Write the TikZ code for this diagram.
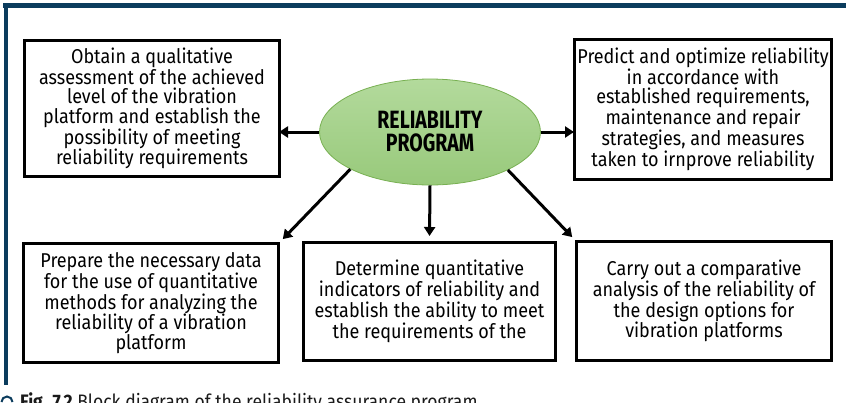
\documentclass[tikz,border=0pt]{standalone}
\usepackage{fontspec}
\setmainfont[FakeStretch=0.9]{Fira Sans}
\newfontfamily\ellfont[FakeStretch=0.78]{Fira Sans}
\usetikzlibrary{shapes.geometric,arrows.meta}
\definecolor{frameblue}{HTML}{0B3C5D}
\definecolor{elltop}{HTML}{B3DA9C}
\definecolor{ellbot}{HTML}{98C97B}
\definecolor{elldraw}{HTML}{78B052}
\definecolor{captext}{HTML}{1A1A1A}
\begin{document}
\begin{tikzpicture}[x=1pt,y=-1pt,
  box/.style={draw=black, line width=3pt, align=center, inner sep=0pt,
    font=\fontsize{20}{19.5}\selectfont},
  conn/.style={line width=3pt, -{Triangle[length=9pt,width=11pt]}},
  framebar/.style={fill=frameblue, draw=none},
]
\useasboundingbox (0,0) rectangle (846,402);
\clip (0,0) rectangle (846,402);
% frame
\fill[framebar] (3,3) rectangle (846,7.5);
\fill[framebar] (3.5,3) rectangle (8,385);
% central ellipse
\node[ellipse, draw=elldraw, line width=0.8pt, top color=elltop, bottom color=ellbot,
  minimum width=221pt, minimum height=106pt, inner sep=0pt, align=center,
  font=\ellfont\bfseries\fontsize{25}{23}\selectfont] (ell) at (430,132) {RELIABILITY\\PROGRAM};
% boxes
\node[box, minimum width=255pt, minimum height=136pt] (b1) at (152,108.5)
  {Obtain a qualitative\\assessment of the achieved\\level of the vibration\\platform and establish the\\possibility of meeting\\reliability requirements};
\node[box, minimum width=257pt, minimum height=140pt] (b2) at (703,109)
  {Predict and optimize reliability\\in accordance with\\established requirements,\\maintenance and repair\\strategies, and measures\\taken to irnprove reliability};
\node[box, minimum width=255pt, minimum height=119pt] (b3) at (151,303)
  {Prepare the necessary data\\for the use of quantitative\\methods for analyzing the\\reliability of a vibration\\platform};
\node[box, minimum width=252pt, minimum height=118pt] (b4) at (429.5,301.5)
  {Determine quantitative\\indicators of reliability and\\establish the ability to meet\\the requirements of the};
\node[box, minimum width=255pt, minimum height=119pt] (b5) at (704,301)
  {Carry out a comparative\\analysis of the reliability of\\the design options for\\vibration platforms};
% connectors
\draw[conn, shorten >=-2pt] (ell.west) -- (ell.west -| b1.east);
\draw[conn, shorten >=-1pt] (ell.east) -- (ell.east -| b2.west);
\draw[conn, shorten >=4pt] (ell.205) -- (b3.north east);
\draw[conn, shorten >=5pt] (ell.south) -- (b4.north);
\draw[conn, shorten >=4pt] (ell.334) -- (b5.north west);
% caption
\draw[frameblue, line width=2pt] (1.5,402) arc[start angle=180, end angle=360, radius=5.5];
\node[anchor=base west, inner sep=0pt, text=captext, font=\fontsize{19.5}{21}\selectfont] (cap) at (20,408.5)
  {\textbf{Fig. 7.2} Block diagram of the reliability assurance program};
\end{tikzpicture}
\end{document}
